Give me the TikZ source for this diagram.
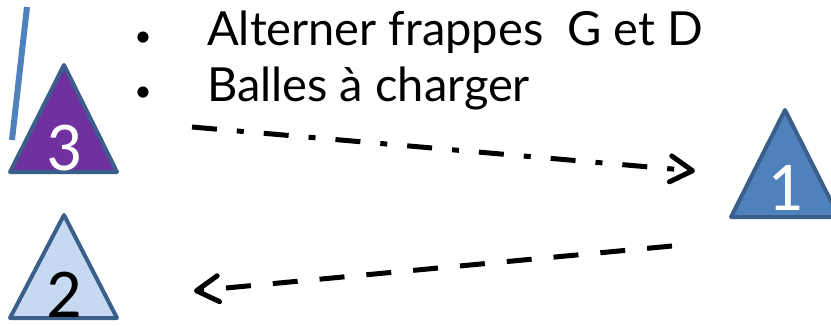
\documentclass[tikz,border=0pt]{standalone}
\usepackage{fontspec}
\setmainfont{Carlito}
\newfontfamily\notefont{Lato}
\usetikzlibrary{arrows.meta}
\definecolor{edgeblue}{HTML}{3A5F8B}
\definecolor{purplefill}{HTML}{7030A0}
\definecolor{midblue}{HTML}{4F81BD}
\definecolor{paleblue}{HTML}{C6D9F1}
\tikzset{
  player/.style={draw=edgeblue, line width=4pt, line join=round},
  digit/.style={font=\fontsize{70}{70}\selectfont, inner sep=0pt, anchor=base},
  note/.style={font=\notefont\fontsize{47}{47}\selectfont, inner sep=0pt, anchor=base west},
  bulletmark/.style={font=\notefont\fontsize{30}{30}\selectfont, inner sep=0pt, anchor=base},
  pass/.style={line width=5pt, -{Straight Barb[length=22pt,width=26pt,round]}},
  dashdot/.style={dash pattern=on 25pt off 20pt on 7pt off 20pt},
  plaindash/.style={dash pattern=on 25pt off 22pt}
}
\begin{document}
\begin{tikzpicture}[x=1pt,y=-1pt]
\useasboundingbox (0,0) rectangle (831,325);
% player 3 (purple)
\draw[player, fill=purplefill] (64,65) -- (117,172) -- (10,172) -- cycle;
\node[digit, text=white] (p3) at (64,170) {3};
% player 2 (pale blue)
\draw[player, fill=paleblue] (64,215) -- (117,318) -- (10,318) -- cycle;
\node[digit, text=black] (p2) at (64,317) {2};
% player 1 (mid blue)
\draw[player, fill=midblue] (785,110) -- (839,217) -- (731,217) -- cycle;
\node[digit, text=white] (p1) at (785,210) {1};
% stick
\draw[midblue, line width=6pt] (27,7) -- (12,140);
% instructions
\node[bulletmark] (b1) at (143,46) {•};
\node[bulletmark] (b2) at (143,101) {•};
\node[note] (t1) at (207,45) {Alterner frappes\ \ G et D};
\node[note] (t2) at (207,101) {Balles à charger};
% passes
\coordinate (s1) at (192,127);
\coordinate (e1) at (695,171);
\coordinate (s2) at (672,246);
\coordinate (e2) at (194,291);
\draw[pass, dashdot] (s1) -- (e1);
\draw[pass, plaindash] (s2) -- (e2);
\end{tikzpicture}
\end{document}
